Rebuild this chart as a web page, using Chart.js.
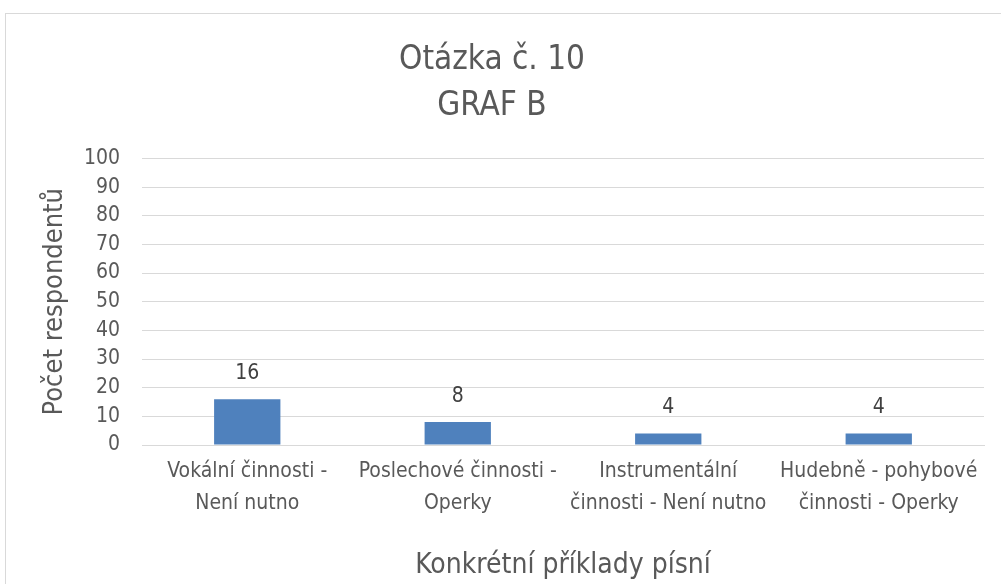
<!DOCTYPE html>
<html>
<head>
<meta charset="utf-8">
<script src="https://cdn.jsdelivr.net/npm/chart.js@4"></script>
<style>
  html, body { margin: 0; padding: 0; background: #fff; overflow: hidden; }
  #frame { position: absolute; left: 5px; top: 13px; width: 1010px; height: 600px; border: 1px solid #d9d9d9; }
  #wrap { position: absolute; left: 0; top: 0; width: 1001px; height: 584px; }
</style>
</head>
<body>
<div id="frame"></div>
<div id="wrap"><canvas id="graf"></canvas></div>
<script>
const kategorie = [
    ['Vokální činnosti -', 'Není nutno'],
    ['Poslechové činnosti -', 'Operky'],
    ['Instrumentální', 'činnosti - Není nutno'],
    ['Hudebně - pohybové', 'činnosti - Operky']
]
const pocty = [16, 8, 4, 4]
const titulek = ['Otázka č. 10', 'GRAF B']

const pismo = "'Liberation Sans Narrow', 'DejaVu Sans Condensed', sans-serif"

// popisky hodnot nad sloupci
const hodnoty = {
    id: 'hodnoty',
    afterDatasetsDraw(chart) {
        const c = chart.ctx
        c.save()
        c.font = '21px ' + pismo
        c.fillStyle = '#404040'
        c.textAlign = 'center'
        c.textBaseline = 'middle'
        chart.getDatasetMeta(0).data.forEach((bar, i) => {
            c.fillText(pocty[i], bar.x, bar.y - 26)
        })
        c.restore()
    }
}

let ctx = document.getElementById('graf').getContext('2d')
let graf = new Chart(ctx, {
    type: 'bar',
    data: {
        labels: kategorie,
        datasets: [{
            data: pocty,
            backgroundColor: '#4f81bd',
            categoryPercentage: 1,
            barPercentage: 0.315
        }]
    },
    plugins: [hodnoty],
    options: {
        responsive: true,
        maintainAspectRatio: false,
        animation: false,
        layout: { padding: { left: 0, right: 17, top: 0, bottom: 0 } },
        plugins: {
            legend: { display: false },
            tooltip: { enabled: false },
            title: {
                display: true,
                text: titulek,
                color: '#595959',
                font: { family: pismo, size: 33, weight: 'normal', lineHeight: 1.4 },
                padding: { top: 37, bottom: 29 }
            }
        },
        scales: {
            x: {
                grid: { display: false },
                border: { display: true, color: '#d9d9d9' },
                ticks: {
                    color: '#595959',
                    font: { family: pismo, size: 21, lineHeight: 1.52 },
                    padding: 3,
                    maxRotation: 0,
                    autoSkip: false
                },
                title: {
                    display: true,
                    text: 'Konkrétní příklady písní',
                    color: '#595959',
                    font: { family: pismo, size: 28 },
                    padding: { top: 30, bottom: 1 }
                },
                afterFit(s) { s.height = 139 }
            },
            y: {
                min: 0,
                max: 100,
                ticks: { stepSize: 10, color: '#595959', font: { family: pismo, size: 21 }, padding: 22 },
                grid: { color: '#d9d9d9', drawTicks: false },
                border: { display: false },
                title: {
                    display: true,
                    text: 'Počet respondentů',
                    color: '#595959',
                    font: { family: pismo, size: 27 },
                    padding: 39
                },
                afterFit(s) { s.width = 142 }
            }
        }
    }
})
</script>
</body>
</html>
